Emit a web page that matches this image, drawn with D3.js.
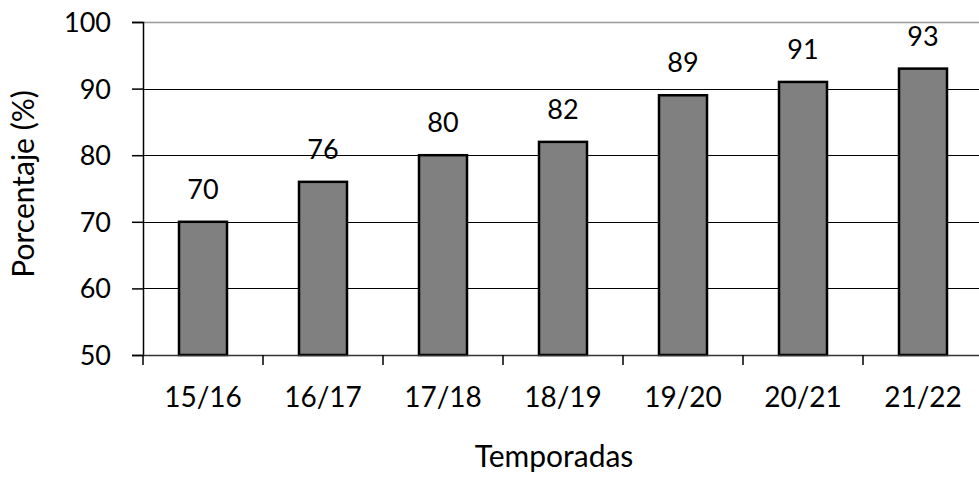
<!DOCTYPE html>
<html>
<head>
<meta charset="utf-8">
<script src="https://cdn.jsdelivr.net/npm/d3@7"></script>
<style>
body { margin: 0; background: #fff; }
text { font-family: Lato, "Open Sans", sans-serif; fill: #000; }
</style>
</head>
<body>
<div id="chart"></div>
<script>
// data
var seasons = ["15/16", "16/17", "17/18", "18/19", "19/20", "20/21", "21/22"];
var percent = [70, 76, 80, 82, 89, 91, 93];
var yTicks = [50, 60, 70, 80, 90, 100];

var svgWidth = 979, svgHeight = 477;
var margin = { top: 22, right: -4, bottom: 122, left: 143 };
var width = svgWidth - margin.left - margin.right;
var height = svgHeight - margin.top - margin.bottom;

var svg = d3.select("#chart").append("svg")
  .attr("width", svgWidth)
  .attr("height", svgHeight);

var chartGroup = svg.append("g")
  .attr("transform", `translate(${margin.left}, ${margin.top})`);

var xScale = d3.scaleBand()
  .domain(seasons)
  .range([0, width])
  .paddingInner(0.6)
  .paddingOuter(0.3);

// ticks sit between the categories
var xEdge = d3.scaleLinear().domain([0, seasons.length]).range([0, width]);

var yScale = d3.scaleLinear()
  .domain([50, 100])
  .range([height, 0]);

// gridlines
chartGroup.append("g")
  .selectAll("line")
  .data(yTicks.slice(1))
  .enter()
  .append("line")
  .attr("x1", 0)
  .attr("x2", width)
  .attr("y1", d => Math.round(yScale(d)) + 0.5)
  .attr("y2", d => Math.round(yScale(d)) + 0.5)
  .attr("stroke", d => d == 100 ? "#999" : "#000")
  .attr("stroke-width", d => d == 100 ? 1.5 : 1);

// bars
chartGroup.append("g")
  .selectAll("rect")
  .data(percent)
  .enter()
  .append("rect")
  .attr("x", (d, i) => xScale(seasons[i]))
  .attr("y", d => yScale(d))
  .attr("width", xScale.bandwidth())
  .attr("height", d => height - yScale(d))
  .attr("fill", "#808080")
  .attr("stroke", "#000")
  .attr("stroke-width", 2.5);

// value labels
chartGroup.append("g")
  .selectAll("text")
  .data(percent)
  .enter()
  .append("text")
  .attr("x", (d, i) => xScale(seasons[i]) + xScale.bandwidth() / 2)
  .attr("y", d => yScale(d) - 23)
  .attr("text-anchor", "middle")
  .style("font-size", "27px")
  .text(d => d);

// y axis
var yAxis = d3.axisLeft(yScale).tickValues(yTicks).tickSize(11).tickPadding(21);
var yg = chartGroup.append("g").call(yAxis);
yg.select(".domain").attr("stroke", "#000").attr("stroke-width", 1.5);
yg.selectAll(".tick line").attr("stroke", "#000").attr("stroke-width", 1.5);
yg.selectAll(".tick text").style("font-size", "27px").attr("dy", "0.35em");

// x axis
var xg = chartGroup.append("g").attr("transform", `translate(0, ${height})`);
xg.append("line")
  .attr("x1", 0).attr("x2", width)
  .attr("y1", 0.5).attr("y2", 0.5)
  .attr("stroke", "#333").attr("stroke-width", 1.5);
xg.selectAll(".xtick")
  .data(d3.range(seasons.length + 1))
  .enter()
  .append("line")
  .attr("x1", d => Math.round(xEdge(d)))
  .attr("x2", d => Math.round(xEdge(d)))
  .attr("y1", 0)
  .attr("y2", 10)
  .attr("stroke", "#000")
  .attr("stroke-width", 1.5);
xg.selectAll(".xlabel")
  .data(seasons)
  .enter()
  .append("text")
  .attr("x", d => xScale(d) + xScale.bandwidth() / 2)
  .attr("y", 52)
  .attr("text-anchor", "middle")
  .style("font-size", "28px")
  .text(d => d);

// axis titles
svg.append("text")
  .attr("x", 554)
  .attr("y", 467)
  .attr("text-anchor", "middle")
  .style("font-size", "30px")
  .text("Temporadas");

svg.append("text")
  .attr("transform", "translate(34, 184) rotate(-90)")
  .attr("text-anchor", "middle")
  .style("font-size", "30px")
  .text("Porcentaje (%)");
</script>
</body>
</html>
